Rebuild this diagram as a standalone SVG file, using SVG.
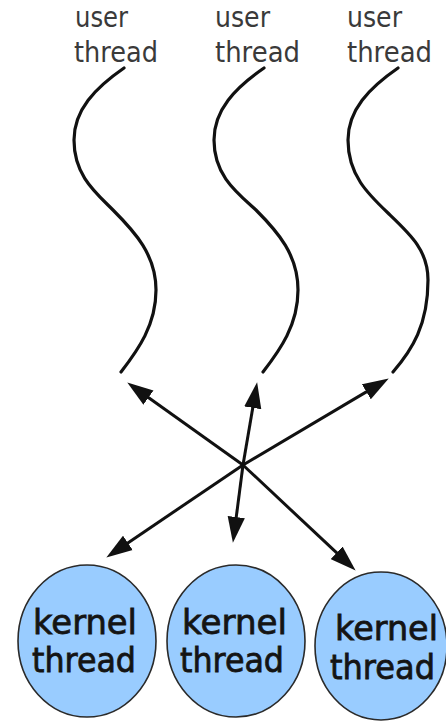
<svg xmlns="http://www.w3.org/2000/svg" width="446" height="721" viewBox="0 0 446 721">
  <defs>
    <style>
      .ulabel { font-family: "DejaVu Sans", "Liberation Sans", sans-serif; font-size: 28px; fill: #3a3a3a; }
      .klabel { font-family: "DejaVu Sans", "Liberation Sans", sans-serif; font-size: 34px; fill: #141414; stroke: #141414; stroke-width: 0.8; }
      .thread { fill: none; stroke: #111; stroke-width: 3.2; stroke-linecap: round; }
      .kernel { fill: #99ccff; stroke: #2a2a2a; stroke-width: 1.6; }
      .link { stroke: #111; stroke-width: 3; fill: none; marker-end: url(#head); }
    </style>
    <marker id="head" markerUnits="userSpaceOnUse" markerWidth="26" markerHeight="18" viewBox="0 0 24 16" refX="14" refY="8" orient="auto">
      <path d="M0,0 L24,8 L0,16 z" fill="#111"/>
    </marker>
  </defs>
  <rect width="446" height="721" fill="#ffffff"/>

  <!-- user threads: label plus wavy line -->
  <g id="user-thread-1">
    <text class="ulabel" x="75" y="27" textLength="53" lengthAdjust="spacingAndGlyphs">user</text>
    <text class="ulabel" x="74" y="62" textLength="84" lengthAdjust="spacingAndGlyphs">thread</text>
    <path class="thread" d="M124,68 C95,88 74,110 74,140 C74,175 95,192 113,210 C135,232 156,255 156,290 C156,325 138,350 121,372"/>
  </g>
  <g id="user-thread-2">
    <text class="ulabel" x="215" y="27" textLength="55" lengthAdjust="spacingAndGlyphs">user</text>
    <text class="ulabel" x="215" y="62" textLength="85" lengthAdjust="spacingAndGlyphs">thread</text>
    <path class="thread" d="M264,68 C235,88 214,110 214,140 C214,175 236,192 256,210 C278,232 298,255 298,290 C298,325 280,350 263,372"/>
  </g>
  <g id="user-thread-3">
    <text class="ulabel" x="347" y="27" textLength="55" lengthAdjust="spacingAndGlyphs">user</text>
    <text class="ulabel" x="347" y="62" textLength="85" lengthAdjust="spacingAndGlyphs">thread</text>
    <path class="thread" d="M398,68 C369,88 348,110 348,140 C348,175 368,194 388,213 C410,234 428,250 428,280 C428,325 412,350 393,372"/>
  </g>

  <!-- many-to-many mapping arrows from a common crossing point -->
  <g id="connectors">
    <line class="link" x1="243" y1="465" x2="136.1" y2="388.8"/>
    <line class="link" x1="243" y1="465" x2="255.3" y2="392.9"/>
    <line class="link" x1="243" y1="465" x2="379.4" y2="384.1"/>
    <line class="link" x1="243" y1="465" x2="115.3" y2="551.4"/>
    <line class="link" x1="243" y1="465" x2="234.3" y2="532.1"/>
    <line class="link" x1="243" y1="465" x2="347.7" y2="563.2"/>
  </g>

  <!-- kernel threads -->
  <g id="kernel-thread-1">
    <ellipse class="kernel" cx="87" cy="641" rx="69" ry="76"/>
    <text class="klabel" x="33" y="634" textLength="104" lengthAdjust="spacingAndGlyphs">kernel</text>
    <text class="klabel" x="32" y="672" textLength="104" lengthAdjust="spacingAndGlyphs">thread</text>
  </g>
  <g id="kernel-thread-2">
    <ellipse class="kernel" cx="236" cy="641" rx="69" ry="76"/>
    <text class="klabel" x="182" y="634" textLength="105" lengthAdjust="spacingAndGlyphs">kernel</text>
    <text class="klabel" x="180" y="672" textLength="104" lengthAdjust="spacingAndGlyphs">thread</text>
  </g>
  <g id="kernel-thread-3">
    <ellipse class="kernel" cx="381" cy="646" rx="66" ry="74"/>
    <text class="klabel" x="335" y="640" textLength="103" lengthAdjust="spacingAndGlyphs">kernel</text>
    <text class="klabel" x="330" y="679" textLength="105" lengthAdjust="spacingAndGlyphs">thread</text>
  </g>
</svg>
